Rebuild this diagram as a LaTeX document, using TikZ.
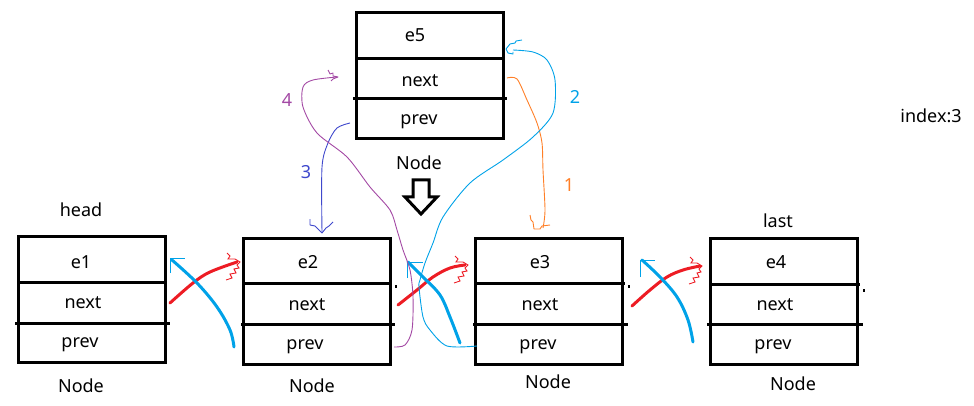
\documentclass[tikz,border=0pt]{standalone}
\usepackage{fontspec}
\setmainfont{Noto Sans}
\definecolor{pred}{HTML}{ED1C24}
\definecolor{pblue}{HTML}{00A2E8}
\definecolor{porange}{HTML}{FF7F27}
\definecolor{ppurple}{HTML}{A349A4}
\definecolor{pindigo}{HTML}{3F48CC}
\begin{document}
\begin{tikzpicture}[x=1pt,y=-1pt,
  box/.style={draw, line width=3pt, minimum width=147pt, minimum height=126pt, inner sep=0pt},
  divider/.style={line width=3pt},
  lbl/.style={font=\fontsize{18}{21}\selectfont, inner sep=0pt},
  num/.style={font=\fontsize{18}{21}\selectfont, inner sep=0pt},
  nextarrow/.style={pred, line width=3pt, line cap=round},
  nexthead/.style={pred, line width=0.9pt},
  prevarrow/.style={pblue, line width=3pt, line cap=round},
  prevhead/.style={pblue, line width=0.9pt},
  thin/.style={line width=0.9pt, line join=round}
]
\useasboundingbox (0,0) rectangle (974,406);

% boxes
\node[box] (b1) at (91.5,299.5) {};
\node[box] (b2) at (316.5,301) {};
\node[box] (b3) at (548.5,301) {};
\node[box] (b4) at (783.5,301.5) {};
\node[box] (b5) at (429.5,76) {};

% dividers
\draw[divider] (18,282) -- (167,282);
\draw[divider] (15,323) -- (170,323);
\draw[divider] (243,283) -- (392,283);
\draw[divider] (241,324) -- (395,324);
\draw[divider] (475,283) -- (625,283);
\draw[divider] (473,324) -- (628,324);
\draw[divider] (710,284) -- (860,284);
\draw[divider] (707,324) -- (863,324);
\draw[divider] (356,59) -- (505,59);
\draw[divider] (353,99) -- (507,99);
% small marks
\fill (395,285) rectangle (396.5,288);
\fill (628,285) rectangle (629.5,288);
\fill (863,289) rectangle (864.5,292);

% texts
\node[lbl] (h) at (81,210) {head};
\node[lbl] (l) at (778,221) {last};
\node[lbl] (e1) at (81,262) {e1};
\node[lbl] (n1) at (83,303) {next};
\node[lbl] (p1) at (80,345) {prev};
\node[lbl] (N1) at (81,386) {Node};
\node[lbl] (e2) at (308,262) {e2};
\node[lbl] (n2) at (307,305) {next};
\node[lbl] (p2) at (305,347) {prev};
\node[lbl] (N2) at (312,386) {Node};
\node[lbl] (e3) at (540,262) {e3};
\node[lbl] (n3) at (540,305) {next};
\node[lbl] (p3) at (538,347) {prev};
\node[lbl] (N3) at (548,382) {Node};
\node[lbl] (e4) at (776,262) {e4};
\node[lbl] (n4) at (775,305) {next};
\node[lbl] (p4) at (773,347) {prev};
\node[lbl] (N4) at (793,384) {Node};
\node[lbl] (e5) at (415,35) {e5};
\node[lbl] (n5) at (420,81) {next};
\node[lbl] (p5) at (419,122) {prev};
\node[lbl] (N5) at (419,163) {Node};
\node[lbl] (idx) at (931,116) {index:3};

% hollow down arrow
\draw[line width=3pt, line join=miter] (413,180) -- (429,180) -- (429,197) -- (437,197) -- (421,214) -- (405,197) -- (413,197) -- cycle;

% next arrows (red) and prev arrows (blue)
\draw[nextarrow] plot[smooth, tension=0.6] coordinates {(170,303) (193,283) (210,272) (237,262)};
\draw[nexthead] (227,253) -- (230,256) -- (228,259) -- (235,259) -- (240,262) -- (237,265) -- (239,268) -- (234,269) -- (236,273) -- (230,274) -- (232,278) -- (226,280);
\draw[prevarrow] plot[smooth, tension=0.6] coordinates {(234,347) (230,330) (217,307) (197,283) (172,260)};
\draw[prevhead] (170,273) -- (170,258) -- (185,258);

\draw[nextarrow] plot[smooth, tension=0.6] coordinates {(398,305) (417,290) (433,277) (450,268) (465,265)};
\draw[nexthead] (455,256) -- (458,259) -- (456,262) -- (463,262) -- (468,265) -- (465,268) -- (467,271) -- (462,272) -- (464,276) -- (458,277) -- (460,281) -- (454,283);
\draw[prevarrow] plot[smooth, tension=0.6] coordinates {(460,343) (450,317) (440,295) (423,277) (408,262)};
\draw[prevhead] (407,278) -- (407,262) -- (423,262);

\draw[nextarrow] plot[smooth, tension=0.6] coordinates {(632,306) (650,290) (667,277) (683,270) (700,266)};
\draw[nexthead] (690,257) -- (693,260) -- (691,263) -- (697,263) -- (702,266) -- (699,269) -- (701,272) -- (697,273) -- (699,277) -- (693,278) -- (695,282) -- (689,284);
\draw[prevarrow] plot[smooth, tension=0.6] coordinates {(693,342) (688,320) (677,297) (660,277) (642,260)};
\draw[prevhead] (640,277) -- (640,260) -- (655,260);

% step 1 (orange)
\draw[porange, thin] plot[smooth, tension=0.5] coordinates {(507,78) (517,79) (527,100) (537,123) (542,143) (543,170) (545,210) (543,228)};
\draw[porange, thin] (530,215) -- (531,220) -- (533,222) -- (534,229) -- (540,229) -- (542,226) -- (550,225);
\node[num, text=porange] (s1) at (569,185) {1};

% step 2 (blue)
\draw[pblue, thin] plot[smooth, tension=0.5] coordinates {(477,346) (447,346) (430,330) (423,317) (419,287) (420,280) (425,263) (433,243) (443,217) (470,183) (503,160) (533,137) (553,113) (555,80) (547,60) (533,52) (513,50)};
\draw[pblue, thin] (522,40) -- (516,41) -- (515,43) -- (510,44) -- (506,49) -- (508,53) -- (513,54) -- (513,52);
\node[num, text=pblue] (s2) at (575,97) {2};

% step 3 (indigo)
\draw[pindigo, thin] plot[smooth, tension=0.5] coordinates {(350,123) (337,128) (328,143) (322,167) (322,232)};
\draw[pindigo, thin] (310,219) -- (310,225) -- (315,226) -- (322,233) -- (326,228) -- (329,226) -- (333,222);
\node[num, text=pindigo] (s3) at (306,172) {3};

% step 4 (purple)
\draw[ppurple, thin] plot[smooth, tension=0.5] coordinates {(394,347) (405,345) (412,330) (413,297) (410,270) (403,250) (397,230) (390,210) (370,187) (347,157) (317,133) (303,107) (303,87) (313,80) (337,77)};
\draw[ppurple, thin] (328,70) -- (330,74) -- (333,73) -- (333,76) -- (338,77) -- (333,79) -- (331,81);
\node[num, text=ppurple] (s4) at (287,100) {4};
\end{tikzpicture}
\end{document}
